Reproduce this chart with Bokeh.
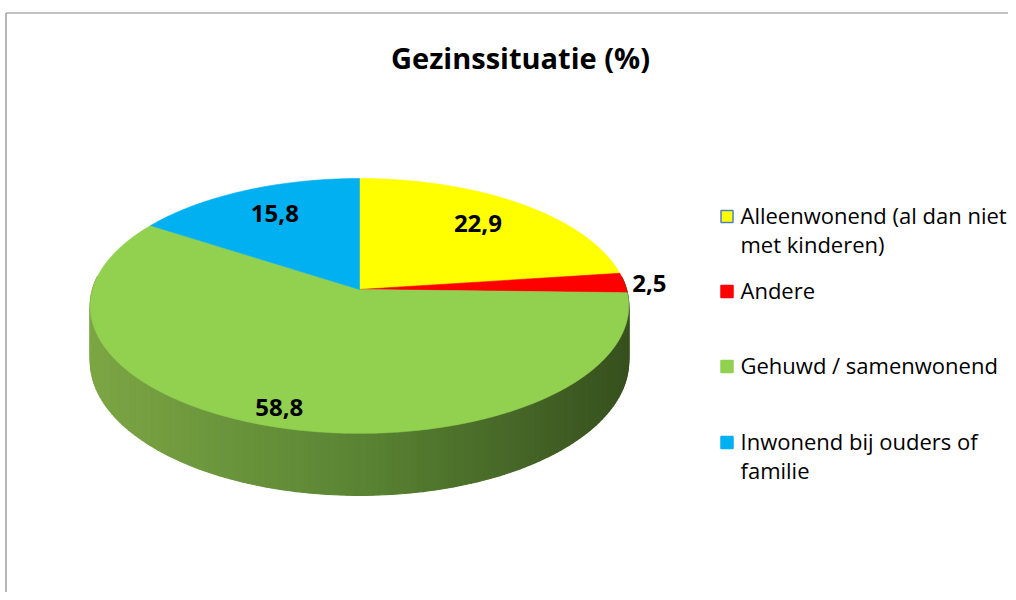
import math
from bokeh.plotting import figure
from bokeh.models import Range1d
from bokeh.core.properties import value
from bokeh.embed import file_html
from bokeh.resources import INLINE

# ---- data ----
categories = ["Alleenwonend (al dan niet\nmet kinderen)", "Andere",
              "Gehuwd / samenwonend", "Inwonend bij ouders of\nfamilie"]
values = [22.9, 2.5, 58.8, 15.8]
labels = ["22,9", "2,5", "58,8", "15,8"]
colors = ["#FFFF00", "#FF0000", "#92D050", "#00B0F0"]
title = "Gezinssituatie (%)"

# ---- geometry (screen pixel coords) ----
CX, CY = 359.0, 289.0
A, B, K, H0 = 267.0, 125.3, 0.129, 54.0
FONT = "Open Sans"


def proj(theta_deg, r=1.0, depth=0.0):
    t = math.radians(theta_deg)
    u = r * math.sin(t)
    v = r * math.cos(t)
    s = 1.0 / (1.0 + K * v)
    return CX + A * u * s, CY - B * v * s + depth * H0 * s


p = figure(width=1008, height=592, output_backend="svg", toolbar_location=None,
           x_range=Range1d(0, 1008), y_range=Range1d(592, 0), min_border=0)
p.axis.visible = False
p.grid.visible = False
p.outline_line_color = None
p.background_fill_color = "white"
p.border_fill_color = "white"

# chart border
p.segment(x0=[5.5, 5.5], y0=[12.5, 12.5], x1=[5.5, 1008], y1=[600, 12.5],
          line_color="#878787", line_width=1.2)

# side (3D wall) strips with gradient
n = 160
xs_side, ys_side, cs_side = [], [], []
xmin, xmax = CX - A * 1.01, CX + A * 1.01
stops = [(0.0, (124, 166, 68)), (0.5, (90, 132, 51)), (1.0, (55, 80, 30))]


def grad(tt):
    tt = min(max(tt, 0.0), 1.0)
    for (t0, c0), (t1, c1) in zip(stops[:-1], stops[1:]):
        if tt <= t1:
            f = (tt - t0) / (t1 - t0)
            return "#%02x%02x%02x" % tuple(int(round(c0[i] + (c1[i] - c0[i]) * f)) for i in range(3))
    return "#%02x%02x%02x" % stops[-1][1]


th0, th1 = 84.0, 276.0
for i in range(n):
    a0 = th0 + (th1 - th0) * i / n
    a1 = th0 + (th1 - th0) * (i + 1) / n
    p0 = proj(a0)
    p1 = proj(a1)
    q1 = proj(a1, depth=1)
    q0 = proj(a0, depth=1)
    xs_side.append([p0[0], p1[0], q1[0], q0[0]])
    ys_side.append([p0[1], p1[1], q1[1], q0[1]])
    xm = (p0[0] + p1[0]) / 2
    cs_side.append(grad((xm - xmin) / (xmax - xmin)))
p.patches(xs_side, ys_side, fill_color=cs_side, line_color=cs_side, line_width=1.2)

# top slices
total = sum(values)
start = 0.0
xs_top, ys_top, mids = [], [], []
for v in values:
    sweep = 360.0 * v / total
    end = start + sweep
    m = max(int(sweep * 2), 3)
    px, py = [CX], [CY]
    for j in range(m + 1):
        x, y = proj(start + sweep * j / m)
        px.append(x)
        py.append(y)
    xs_top.append(px)
    ys_top.append(py)
    mids.append(start + sweep / 2)
    start = end
p.patches(xs_top, ys_top, fill_color=colors, line_color=colors, line_width=0.6)

# data labels
label_r = [0.72, 1.03, 0.9, 0.72]
la = ["center", "left", "center", "center"]
dy = [-3, 1, -3, -3]
for mid, r, t, al, d in zip(mids, label_r, labels, la, dy):
    x, y = proj(mid, r)
    p.text(x=[x], y=[y + d], text=[t], text_font=value(FONT), text_font_style="bold",
           text_font_size="24px", text_align=al, text_baseline="middle", text_color="black")

# title
p.text(x=[520], y=[57], text=[title], text_font=value(FONT), text_font_style="bold",
       text_font_size="29px", text_align="center", text_baseline="middle", text_color="black")

# legend
leg_y = [216, 291, 366, 442]
leg_line = 29
for cat, col, y in zip(categories, colors, leg_y):
    p.rect(x=[726.5], y=[y], width=12, height=12, fill_color=col,
           line_color="#4F81BD" if col == "#FFFF00" else col, line_width=1.5)
    for k, line in enumerate(cat.split("\n")):
        p.text(x=[740], y=[y - 2 + k * leg_line], text=[line], text_font=value(FONT),
               text_font_size="22px", text_align="left", text_baseline="middle",
               text_color="black")

open("out.html", "w").write(file_html(p, INLINE))
